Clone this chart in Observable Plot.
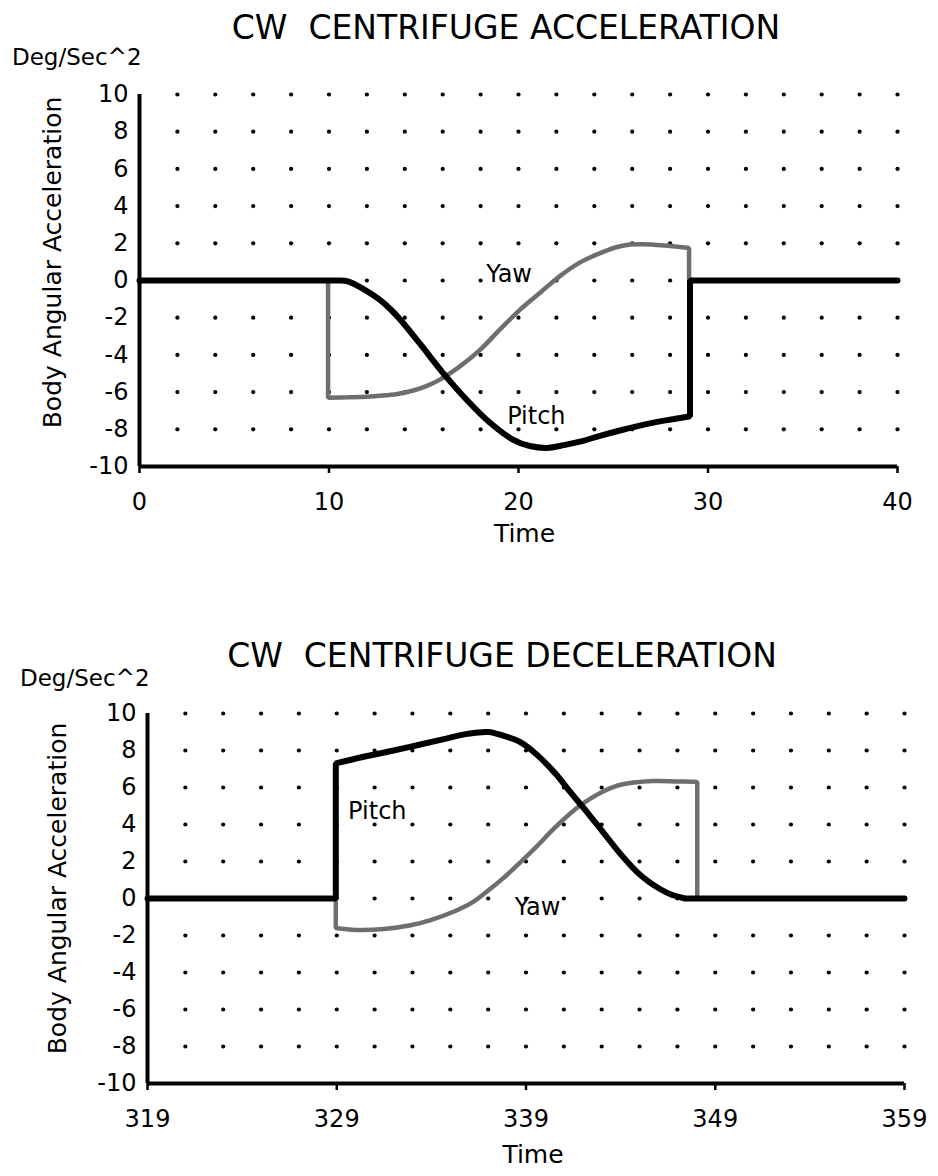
<!DOCTYPE html>
<html><head><meta charset="utf-8">
<script src="https://cdn.jsdelivr.net/npm/d3@7"></script>
<script src="https://cdn.jsdelivr.net/npm/@observablehq/plot@0.6"></script>
<style>
body{margin:0;background:#fff;font-family:"DejaVu Sans",sans-serif;color:#000}
#page{position:relative;width:938px;height:1176px;overflow:hidden;background:#fff}
.title{position:absolute;font-size:33px;white-space:pre;transform:translate(-50%,-50%);line-height:1}
.unit{position:absolute;font-size:23px;white-space:pre;transform:translateY(-50%);line-height:1}
.chart{position:absolute;left:0}
</style></head><body>
<div id="page">
<svg width="0" height="0" style="position:absolute">
  <defs>
    <pattern id="checker" width="2" height="2" patternUnits="userSpaceOnUse">
      <rect width="2" height="2" fill="#dcdcdc"/>
      <rect width="1" height="1" fill="#000"/>
      <rect x="1" y="1" width="1" height="1" fill="#000"/>
    </pattern>
  </defs>
</svg>
<div class="title" style="left:506px;top:27px">CW  CENTRIFUGE ACCELERATION</div>
<div class="unit" style="left:12px;top:57px">Deg/Sec^2</div>
<div class="chart" id="c1" style="top:80px"></div>
<div class="title" style="left:502px;top:655px">CW  CENTRIFUGE DECELERATION</div>
<div class="unit" style="left:20px;top:678px">Deg/Sec^2</div>
<div class="chart" id="c2" style="top:700px"></div>
</div>
<script>
// ---- Data ----
const yTicks = [-10, -8, -6, -4, -2, 0, 2, 4, 6, 8, 10];
const gridY = [-8, -6, -4, -2, 0, 2, 4, 6, 8, 10];

const accelXTicks = [0, 10, 20, 30, 40];
const accelGridX = [2, 4, 6, 8, 10, 12, 14, 16, 18, 20, 22, 24, 26, 28, 30, 32, 34, 36, 38, 40];
const accelPitchTime = [0, 10.6, 11.0, 11.8, 12.6, 13.3, 13.8, 14.8, 16.0, 17.3, 18.5, 19.7, 20.6, 21.5, 22.4, 23.3, 24.3, 25.4, 26.4, 27.3, 28.2, 29.05, 29.05, 40];
const accelPitchValue = [0, 0, -0.05, -0.45, -0.98, -1.6, -2.15, -3.4, -4.95, -6.45, -7.65, -8.55, -8.9, -9.0, -8.85, -8.65, -8.35, -8.05, -7.8, -7.6, -7.45, -7.3, 0, 0];
const accelYawTime = [0, 9.95, 9.95, 11, 12, 12.7, 13.6, 14.5, 15.2, 15.9, 16.8, 18.0, 19.05, 20.1, 21.2, 22.2, 23.3, 24.5, 25.2, 25.9, 27, 28, 29.0, 29.0, 40];
const accelYawValue = [0, 0, -6.3, -6.28, -6.25, -6.2, -6.1, -5.9, -5.65, -5.3, -4.7, -3.7, -2.6, -1.55, -0.6, 0.25, 1.0, 1.55, 1.8, 1.93, 1.94, 1.85, 1.75, 0, 0];

const decelXTicks = [319, 329, 339, 349, 359];
const decelGridX = [321, 323, 325, 327, 329, 331, 333, 335, 337, 339, 341, 343, 345, 347, 349, 351, 353, 355, 357, 359];
const decelPitchTime = [319, 328.95, 328.95, 330.6, 332.0, 333.3, 334.6, 335.9, 337.0, 337.8, 338.7, 339.6, 340.6, 341.3, 342.2, 343.1, 344.0, 344.9, 345.5, 346.1, 346.7, 347.4, 359];
const decelPitchValue = [0, 0, 7.3, 7.7, 8.0, 8.3, 8.6, 8.9, 9.0, 8.8, 8.45, 7.75, 6.7, 5.8, 4.7, 3.55, 2.4, 1.4, 0.9, 0.5, 0.2, 0, 0];
const decelYawTime = [319, 328.95, 328.95, 330, 331.5, 332.9, 334, 335.2, 336.1, 336.9, 337.8, 338.7, 339.6, 340.5, 341.7, 342.4, 343.1, 344.0, 345.7, 347.0, 348.05, 348.05, 359];
const decelYawValue = [0, 0, -1.6, -1.7, -1.65, -1.45, -1.15, -0.7, -0.25, 0.35, 1.1, 1.95, 2.85, 3.8, 4.9, 5.4, 5.8, 6.15, 6.35, 6.33, 6.3, 0, 0];

const seriesLabels = ["Pitch", "Yaw"];
const accelLabelX = [19.4, 18.3];
const accelLabelY = [-7.3, 0.32];
const decelLabelX = [329.6, 338.4];
const decelLabelY = [4.7, -0.45];

const xTitle = "Time";
const yTitle = "Body Angular Acceleration";

// Build point rows; the ends of vertical steps and long flat runs are doubled
// so the smooth curve keeps those corners sharp and the runs straight.
function rows(T, V) {
  const out = [];
  const sharp = (a, b) => T[a] === T[b] || (V[a] === V[b] && Math.abs(T[b] - T[a]) > 3);
  T.forEach((t, i) => {
    const p = {t, v: V[i]};
    out.push(p);
    const end = i === 0 || i === T.length - 1;
    if (!end && (sharp(i - 1, i) || sharp(i, i + 1))) out.push({...p});
  });
  return out;
}

function makeChart(c) {
  const grid = c.gridX.flatMap(x => gridY.map(y => ({x, y})));
  const pitch = rows(c.pitchT, c.pitchV);
  const yaw = rows(c.yawT, c.yawV);
  const labels = seriesLabels.map((s, i) => ({s, x: c.labelX[i], y: c.labelY[i]}));
  const x0 = c.xTicks[0], x1 = c.xTicks[c.xTicks.length - 1];
  return Plot.plot({
    width: 938, height: c.height,
    marginLeft: c.marginLeft, marginRight: c.marginRight,
    marginTop: c.marginTop, marginBottom: c.marginBottom,
    style: {fontFamily: '"DejaVu Sans", sans-serif', fontSize: "24px", color: "#000", background: "transparent", overflow: "visible"},
    x: {domain: [x0, x1]},
    y: {domain: [-10, 10]},
    marks: [
      Plot.dot(grid, {x: "x", y: "y", r: 2.1, fill: "#000", stroke: "none"}),
      Plot.axisX(c.xTicks, {tickSize: 7, tickPadding: 19, strokeWidth: 2.5, label: null, tickFormat: d => String(d)}),
      Plot.axisY(yTicks, {tickSize: 0, tickPadding: 11, label: null, tickFormat: d => String(d)}),
      Plot.ruleX([x0], {y1: -10, y2: 10, strokeWidth: 4}),
      Plot.ruleY([-10], {x1: x0, x2: x1, strokeWidth: 4}),
      Plot.line(yaw, {x: "t", y: "v", stroke: "url(#checker)", strokeWidth: 4.5, strokeLinejoin: "miter", curve: "catmull-rom"}),
      Plot.line(pitch, {x: "t", y: "v", stroke: "#000", strokeWidth: 6, strokeLinejoin: "miter", curve: "catmull-rom"}),
      Plot.text(labels, {x: "x", y: "y", text: "s", textAnchor: "start", fontSize: 24, letterSpacing: 2}),
      Plot.text([xTitle], {frameAnchor: "bottom", textAnchor: "middle", dx: c.timeDx, dy: c.timeDy, fontSize: 25}),
      Plot.text([yTitle], {frameAnchor: "left", textAnchor: "middle", rotate: -90, dx: c.yTitleDx, dy: c.yTitleDy, fontSize: 25})
    ]
  });
}

document.getElementById("c1").append(makeChart({
  xTicks: accelXTicks, gridX: accelGridX,
  pitchT: accelPitchTime, pitchV: accelPitchValue,
  yawT: accelYawTime, yawV: accelYawValue,
  labelX: accelLabelX, labelY: accelLabelY,
  height: 480, marginLeft: 139, marginRight: 41, marginTop: 14, marginBottom: 94,
  timeDx: 6, timeDy: 75, yTitleDx: -87, yTitleDy: -18
}));

document.getElementById("c2").append(makeChart({
  xTicks: decelXTicks, gridX: decelGridX,
  pitchT: decelPitchTime, pitchV: decelPitchValue,
  yawT: decelYawTime, yawV: decelYawValue,
  labelX: decelLabelX, labelY: decelLabelY,
  height: 476, marginLeft: 147, marginRight: 34, marginTop: 13, marginBottom: 93,
  timeDx: 7, timeDy: 79, yTitleDx: -90, yTitleDy: -10
}));
</script>
</body></html>
